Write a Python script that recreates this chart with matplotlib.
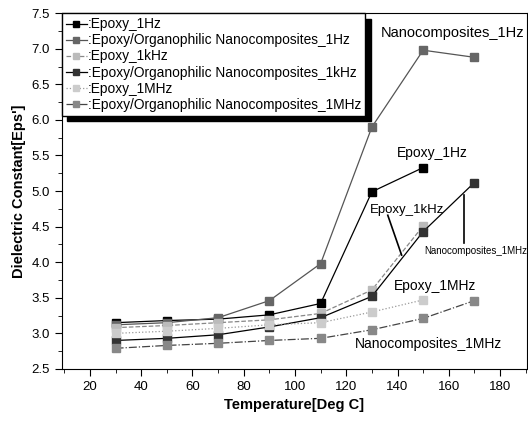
import matplotlib
matplotlib.use("Agg")
import matplotlib.pyplot as plt

plt.rcParams["font.family"] = ["Liberation Sans", "DejaVu Sans"]

# Temperatures (Deg C)
temp_epoxy = [30, 50, 70, 90, 110, 130, 150]
temp_nano = [30, 50, 70, 90, 110, 130, 150, 170]

# Dielectric constant values
epoxy_1hz = [3.15, 3.18, 3.20, 3.26, 3.42, 4.99, 5.33]
nano_1hz = [3.12, 3.15, 3.22, 3.46, 3.98, 5.90, 6.98, 6.88]
epoxy_1khz = [3.08, 3.11, 3.15, 3.19, 3.28, 3.61, 4.51]
nano_1khz = [2.90, 2.93, 2.98, 3.09, 3.22, 3.52, 4.43, 5.12]
epoxy_1mhz = [3.00, 3.03, 3.07, 3.12, 3.15, 3.30, 3.47]
nano_1mhz = [2.79, 2.83, 2.86, 2.90, 2.93, 3.05, 3.21, 3.46]

series = [
    (temp_epoxy, epoxy_1hz, ":Epoxy_1Hz", "-", "black", "black"),
    (temp_nano, nano_1hz, ":Epoxy/Organophilic Nanocomposites_1Hz", "-", "#555555", "#666666"),
    (temp_epoxy, epoxy_1khz, ":Epoxy_1kHz", "--", "#888888", "#bbbbbb"),
    (temp_nano, nano_1khz, ":Epoxy/Organophilic Nanocomposites_1kHz", "-", "black", "#333333"),
    (temp_epoxy, epoxy_1mhz, ":Epoxy_1MHz", ":", "#999999", "#cccccc"),
    (temp_nano, nano_1mhz, ":Epoxy/Organophilic Nanocomposites_1MHz", "-.", "#444444", "#888888"),
]

fig = plt.figure(figsize=(5.28, 4.26), dpi=100)
ax = fig.add_axes([0.117, 0.134, 0.881, 0.835])

for x, y, label, ls, lc, mc in series:
    ax.plot(x, y, linestyle=ls, color=lc, linewidth=0.9, marker="s",
            markersize=5.5, markerfacecolor=mc, markeredgecolor=mc, label=label)

ax.set_xlim(9, 190.5)
ax.set_ylim(2.5, 7.5)
ax.set_xticks(range(20, 181, 20))
ax.set_xticks(range(10, 191, 10), minor=True)
ax.set_yticks([2.5, 3.0, 3.5, 4.0, 4.5, 5.0, 5.5, 6.0, 6.5, 7.0, 7.5])
ax.set_yticks([2.75 + 0.5 * i for i in range(10)], minor=True)
ax.tick_params(which="major", direction="out", length=5, labelsize=9.5)
ax.tick_params(which="minor", direction="out", length=3)

ax.set_xlabel("Temperature[Deg C]", fontsize=10.5, fontweight="bold")
ax.set_ylabel("Dielectric Constant[Eps']", fontsize=10.5, fontweight="bold")

leg = ax.legend(loc="upper left", bbox_to_anchor=(0, 1), borderaxespad=0,
                fontsize=9.9, handlelength=1.5, handletextpad=0.1,
                labelspacing=0.15, borderpad=0.3, numpoints=1, fancybox=False,
                edgecolor="black", framealpha=1, markerscale=0.8,
                shadow={"ox": 4, "oy": -4, "color": "black", "alpha": 1})
leg.get_frame().set_linewidth(1.0)

# annotations
ax.text(161.6, 7.22, "Nanocomposites_1Hz", fontsize=10.5, ha="center", va="center")
ax.text(153.5, 5.53, "Epoxy_1Hz", fontsize=10, ha="center", va="center")
ax.text(143.9, 4.73, "Epoxy_1kHz", fontsize=9.5, ha="center", va="center")
ax.plot([136.2, 141.6], [4.66, 4.10], color="black", linewidth=1.2)
ax.text(170.4, 4.16, "Nanocomposites_1MHz", fontsize=7, ha="center", va="center")
ax.plot([166.1, 166.1], [4.94, 4.27], color="black", linewidth=1.2)
ax.text(154.5, 3.67, "Epoxy_1MHz", fontsize=10, ha="center", va="center")
ax.text(151.9, 2.85, "Nanocomposites_1MHz", fontsize=10, ha="center", va="center")

fig.savefig("out.png", dpi=100)
